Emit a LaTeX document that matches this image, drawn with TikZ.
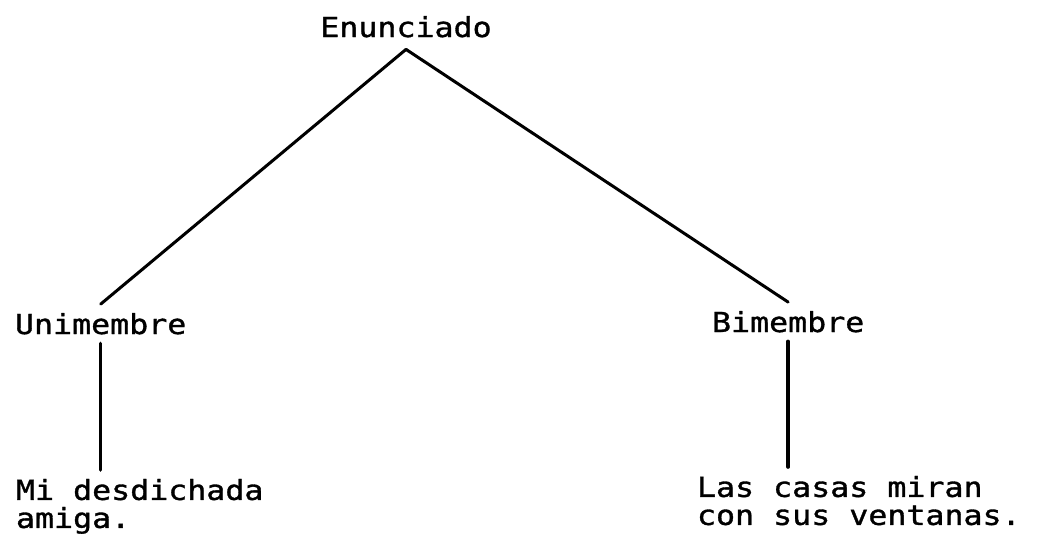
\documentclass[tikz,border=0pt]{standalone}
\usepackage{fontspec}
\setmonofont[FakeStretch=1.15, FakeBold=1.2]{DejaVu Sans Mono}
\usepackage{tikz}
\usetikzlibrary{calc,positioning}
\tikzstyle{palabra}=[inner sep=0pt, outer xsep=0pt, outer ysep=9pt,
                     font=\ttfamily\fontsize{27.5}{28}\selectfont]
\tikzstyle{rama}   =[line width=3pt, line cap=round]
\tikzstyle{tallo}  =[line width=3.6pt, line cap=round]

\begin{document}
\begin{tikzpicture}[x=1pt, y=-1pt]
    \useasboundingbox (0,0) rectangle (1044,538);

    \draw (406,37) node (1) [palabra, anchor=base, outer ysep=12pt] {Enunciado};
    \draw (15,334) node (2) [palabra, anchor=base west] {Unimembre};
    \draw (712,332) node (3) [palabra, anchor=base west] {Bimembre};
    \draw (16,470) node (4) [palabra, anchor=north west, align=left] {Mi desdichada\\amiga.};
    \draw (697,467) node (5) [palabra, anchor=north west, align=left] {Las casas miran\\con sus ventanas.};

    \foreach \j in {2,3}
        \draw [rama] (1.south) -- (\j.north);
    \foreach \i/\j in {2/4,3/5}
        \draw [tallo] (\i.south) -- (\i.south |- \j.north);

\end{tikzpicture}
\end{document}
